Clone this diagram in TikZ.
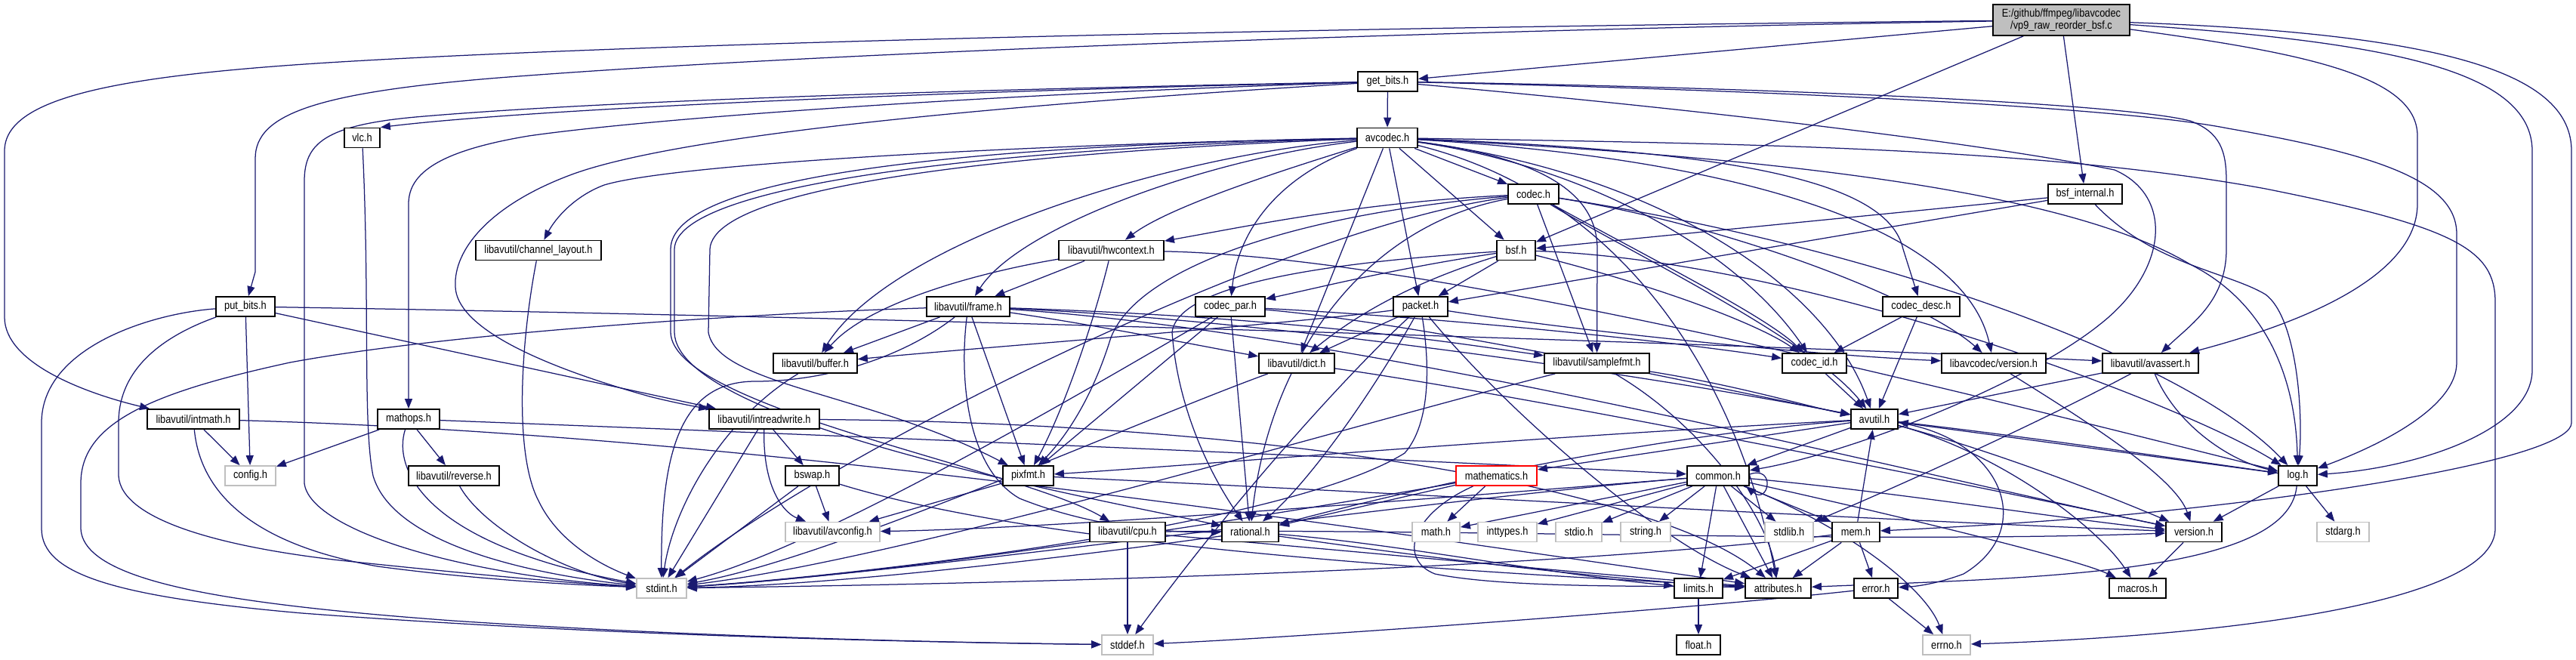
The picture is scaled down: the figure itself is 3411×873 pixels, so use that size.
\documentclass[tikz,border=0pt]{standalone}
\usepackage{fontspec}
\newfontfamily\dxf{Liberation Sans}[FakeStretch=0.86]
\usetikzlibrary{arrows.meta}
\definecolor{edgec}{HTML}{191970}
\definecolor{graybd}{HTML}{BFBFBF}
\definecolor{rootfill}{HTML}{BFBFBF}
\pgfdeclarelayer{bgfill}
\pgfdeclarelayer{edges}
\pgfsetlayers{bgfill,edges,main}
\begin{document}
\begin{tikzpicture}[x=1pt,y=-1pt,
  nb/.style={draw=black,line width=1.8pt,fill=white,minimum height=26pt,inner sep=0pt,
    font=\dxf\fontsize{14.9pt}{15.5pt}\selectfont},
  ng/.style={nb,draw=graybd},
  nr/.style={nb,draw=red},
  edg/.style={draw=edgec,line width=1.25pt,-{Triangle[length=13pt,width=10pt]}}]
\begin{pgfonlayer}{bgfill}
\fill[white] (0,0) rectangle (3411,873);
\end{pgfonlayer}
\useasboundingbox (0,0) rectangle (3411,873);
% nodes
\node[nb,minimum width=181pt,minimum height=41pt,fill=rootfill,align=center] (root) at (2729.5,26.5) {E:/github/ffmpeg/libavcodec\\/vp9\_raw\_reorder\_bsf.c};
\node[nb,minimum width=79pt] (get_bits) at (1837.5,108) {get\_bits.h};
\node[nb,minimum width=47pt] (vlc) at (479.5,182.5) {vlc.h};
\node[nb,minimum width=80pt] (avcodec) at (1837,182.5) {avcodec.h};
\node[nb,minimum width=67pt] (codec) at (2030.5,257) {codec.h};
\node[nb,minimum width=98pt] (bsf_internal) at (2761,257) {bsf\_internal.h};
\node[nb,minimum width=166pt] (channel_layout) at (713,331.5) {libavutil/channel\_layout.h};
\node[nb,minimum width=139pt] (hwcontext) at (1471.5,331.5) {libavutil/hwcontext.h};
\node[nb,minimum width=51pt] (bsf) at (2007.5,331.5) {bsf.h};
\node[nb,minimum width=78pt] (put_bits) at (325,406) {put\_bits.h};
\node[nb,minimum width=110pt] (frame) at (1282,406) {libavutil/frame.h};
\node[nb,minimum width=92pt] (codec_par) at (1629,406) {codec\_par.h};
\node[nb,minimum width=72pt] (packet) at (1881,406) {packet.h};
\node[nb,minimum width=102pt] (codec_desc) at (2544,406) {codec\_desc.h};
\node[nb,minimum width=111pt] (buffer) at (1079.5,481) {libavutil/buffer.h};
\node[nb,minimum width=100pt] (dict) at (1717,481) {libavutil/dict.h};
\node[nb,minimum width=139pt] (samplefmt) at (2114.5,481) {libavutil/samplefmt.h};
\node[nb,minimum width=85pt] (codec_id) at (2402.5,481) {codec\_id.h};
\node[nb,minimum width=138pt] (lavc_version) at (2640,481) {libavcodec/version.h};
\node[nb,minimum width=127pt] (avassert) at (2847.5,481) {libavutil/avassert.h};
\node[nb,minimum width=122pt] (intmath) at (256,555) {libavutil/intmath.h};
\node[nb,minimum width=82pt] (mathops) at (541,555) {mathops.h};
\node[nb,minimum width=146pt] (intreadwrite) at (1012,555) {libavutil/intreadwrite.h};
\node[nb,minimum width=62pt] (avutil) at (2482,555) {avutil.h};
\node[ng,minimum width=67pt] (config) at (331.5,630) {config.h};
\node[nb,minimum width=120pt] (reverse) at (601,630) {libavutil/reverse.h};
\node[nb,minimum width=71pt] (bswap) at (1075.5,630) {bswap.h};
\node[nb,minimum width=67pt] (pixfmt) at (1361.5,630) {pixfmt.h};
\node[nr,minimum width=107pt] (mathematics) at (1981.5,630) {mathematics.h};
\node[nb,minimum width=82pt] (common) at (2275,630) {common.h};
\node[nb,minimum width=51pt] (log) at (3042.5,630) {log.h};
\node[ng,minimum width=125pt] (avconfig) at (1102.5,704.5) {libavutil/avconfig.h};
\node[nb,minimum width=100pt] (cpu) at (1493,704.5) {libavutil/cpu.h};
\node[nb,minimum width=75pt] (rational) at (1655.5,704.5) {rational.h};
\node[ng,minimum width=63pt] (math) at (1901.5,704.5) {math.h};
\node[ng,minimum width=78pt] (inttypes) at (1996,704.5) {inttypes.h};
\node[ng,minimum width=61pt] (stdio) at (2090.5,704.5) {stdio.h};
\node[ng,minimum width=66pt] (string) at (2179,704.5) {string.h};
\node[ng,minimum width=64pt] (stdlib) at (2369,704.5) {stdlib.h};
\node[nb,minimum width=63pt] (mem) at (2457.5,704.5) {mem.h};
\node[nb,minimum width=74pt] (version) at (2905,704.5) {version.h};
\node[ng,minimum width=69pt] (stdarg) at (3102.5,704.5) {stdarg.h};
\node[ng,minimum width=66pt] (stdint) at (876,779) {stdint.h};
\node[nb,minimum width=64pt] (limits) at (2249,779) {limits.h};
\node[nb,minimum width=87pt] (attributes) at (2354.5,779) {attributes.h};
\node[nb,minimum width=58pt] (error) at (2484,779) {error.h};
\node[nb,minimum width=75pt] (macros) at (2830.5,779) {macros.h};
\node[ng,minimum width=68pt] (stddef) at (1493,854) {stddef.h};
\node[nb,minimum width=58pt] (float) at (2249,854) {float.h};
\node[ng,minimum width=63pt] (errno) at (2577.5,854) {errno.h};
\begin{pgfonlayer}{edges}
% root
\draw[edg] (root) -- (get_bits);
\draw[edg] (root) -- (bsf);
\draw[edg] (root) -- (bsf_internal);
\draw[edg] (root) .. controls (1800,36) and (900,55) .. (450,82) .. controls (150,100) and (6,130) .. (6,200) -- (6,420) .. controls (6,480) and (110,520) .. (intmath);
\draw[edg] (root) .. controls (1900,40) and (1100,70) .. (700,100) .. controls (420,120) and (338,150) .. (338,210) -- (338,360) -- (put_bits);
\draw[edg] (root) .. controls (3050,70) and (3201,100) .. (3201,180) -- (3201,270) .. controls (3201,380) and (3000,440) .. (avassert);
\draw[edg] (root) .. controls (3150,55) and (3353,90) .. (3353,200) -- (3353,490) .. controls (3353,570) and (3200,620) .. (log);
\draw[edg] (root) .. controls (3250,45) and (3405,100) .. (3405,200) -- (3405,560) .. controls (3405,600) and (3150,650) .. (2800,683) .. controls (2650,695) and (2550,700) .. (mem);
% get_bits
\draw[edg] (get_bits) -- (avcodec);
\draw[edg] (get_bits) .. controls (1200,122) and (700,145) .. (vlc.north east);
\draw[edg] (get_bits) .. controls (1300,118) and (800,133) .. (550,155) .. controls (430,166) and (403,190) .. (403,240) -- (403,640) .. controls (410,700) and (600,760) .. (stdint);
\draw[edg] (get_bits) .. controls (1300,125) and (860,157) .. (700,180) .. controls (580,200) and (541,230) .. (541,270) -- (mathops);
\draw[edg] (get_bits) .. controls (1300,140) and (900,180) .. (760,230) .. controls (650,270) and (600,330) .. (603,380) .. controls (605,430) and (700,480) .. (860,525) .. controls (900,535) and (930,540) .. (intreadwrite);
\draw[edg] (get_bits) .. controls (2200,140) and (2600,185) .. (2800,225) .. controls (2880,260) and (2870,360) .. (2780,430) .. controls (2680,510) and (2450,600) .. (common);
\draw[edg] (get_bits) .. controls (2300,118) and (2800,140) .. (2950,170) .. controls (3150,205) and (3253,240) .. (3253,310) -- (3253,480) .. controls (3253,540) and (3150,590) .. (log);
\draw[edg] (get_bits) .. controls (2300,115) and (2800,135) .. (2900,160) .. controls (2940,175) and (2948,200) .. (2948,240) -- (2948,330) .. controls (2948,400) and (2900,430) .. (avassert);
% vlc
\draw[edg] (vlc) .. controls (490,400) and (480,560) .. (494,630) .. controls (520,720) and (700,760) .. (stdint);
% avcodec
\draw[edg] (avcodec) -- (codec);
\draw[edg] (avcodec) -- (bsf);
\draw[edg] (avcodec) -- (packet);
\draw[edg] (avcodec) -- (dict);
\draw[edg] (avcodec) .. controls (1400,190) and (900,215) .. (800,245) .. controls (760,260) and (735,290) .. (channel_layout);
\draw[edg] (avcodec) .. controls (1300,192) and (888,230) .. (888,330) -- (888,440) .. controls (890,540) and (1350,620) .. (cpu);
\draw[edg] (avcodec) .. controls (1500,195) and (945,230) .. (940,330) -- (938,440) .. controls (950,510) and (1150,520) .. (pixfmt);
\draw[edg] (avcodec) .. controls (1550,205) and (1180,320) .. (buffer);
\draw[edg] (avcodec) .. controls (1600,210) and (1350,300) .. (frame);
\draw[edg] (avcodec) .. controls (1650,240) and (1540,280) .. (hwcontext);
\draw[edg] (avcodec) .. controls (1700,230) and (1640,300) .. (codec_par);
\draw[edg] (avcodec) .. controls (1350,195) and (895,240) .. (893,330) -- (893,440) .. controls (895,560) and (1450,660) .. (rational);
\draw[edg] (avcodec) .. controls (2050,210) and (2115,260) .. (2115,330) -- (samplefmt);
\draw[edg] (avcodec) .. controls (2100,220) and (2300,330) .. (codec_id);
\draw[edg] (avcodec) .. controls (2300,200) and (2500,240) .. (2520,330) -- (codec_desc);
\draw[edg] (avcodec) .. controls (2200,230) and (2420,380) .. (avutil);
\draw[edg] (avcodec) .. controls (2150,260) and (2300,500) .. (attributes);
\draw[edg] (avcodec) .. controls (2300,210) and (2600,300) .. (lavc_version);
\draw[edg] (avcodec) .. controls (2400,210) and (2750,260) .. (2900,350) .. controls (3000,400) and (3040,500) .. (log);
\draw[edg] (avcodec) .. controls (2300,190) and (2700,195) .. (3000,250) .. controls (3250,300) and (3304,330) .. (3304,400) -- (3304,700) .. controls (3304,790) and (3000,840) .. (errno);
% codec
\draw[edg] (codec) -- (samplefmt);
\draw[edg] (codec) .. controls (1800,268) and (1650,300) .. (hwcontext);
\draw[edg] (codec) .. controls (1700,285) and (1500,360) .. (1470,450) .. controls (1445,530) and (1410,580) .. (pixfmt);
\draw[edg] (codec) .. controls (1800,300) and (1680,480) .. (rational);
\draw[edg] (codec) .. controls (1700,300) and (1100,600) .. (stdint);
\draw[edg] (codec) .. controls (2200,350) and (2340,420) .. (codec_id);
\draw[edg] (codec) .. controls (2150,330) and (2400,450) .. (avutil);
\draw[edg] (codec) .. controls (2300,300) and (2550,400) .. (lavc_version);
\draw[edg] (codec) .. controls (2500,330) and (2900,480) .. (log);
% bsf_internal
\draw[edg] (bsf_internal) -- (bsf);
\draw[edg] (bsf_internal) -- (packet);
\draw[edg] (bsf_internal) .. controls (2850,350) and (2950,360) .. (3000,390) .. controls (3040,420) and (3050,540) .. (log);
% channel_layout
\draw[edg] (channel_layout) .. controls (690,450) and (680,600) .. (713,663) .. controls (740,720) and (800,750) .. (stdint);
% hwcontext
\draw[edg] (hwcontext) -- (frame);
\draw[edg] (hwcontext) .. controls (1300,360) and (1150,400) .. (buffer);
\draw[edg] (hwcontext) .. controls (1450,420) and (1410,540) .. (pixfmt);
\draw[edg] (hwcontext) .. controls (1900,340) and (2600,520) .. (log);
% bsf
\draw[edg] (bsf) -- (packet);
\draw[edg] (bsf) .. controls (1850,355) and (1750,380) .. (codec_par);
\draw[edg] (bsf) .. controls (1850,380) and (1780,430) .. (dict);
\draw[edg] (bsf) .. controls (1800,345) and (1560,370) .. (1552,440) .. controls (1560,550) and (1610,640) .. (rational);
\draw[edg] (bsf) .. controls (2200,380) and (2330,430) .. (codec_id);
\draw[edg] (bsf) .. controls (2400,345) and (2900,540) .. (log);
% put_bits
\draw[edg] (put_bits) -- (config);
\draw[edg] (put_bits) -- (intreadwrite);
\draw[edg] (put_bits) .. controls (1200,420) and (2300,455) .. (avassert);
\draw[edg] (put_bits) .. controls (230,440) and (157,480) .. (157,560) -- (157,630) .. controls (160,690) and (300,725) .. (450,742) .. controls (600,758) and (750,772) .. (stdint);
\draw[edg] (put_bits) .. controls (200,415) and (55,460) .. (55,560) -- (55,700) .. controls (55,760) and (150,790) .. (400,812) .. controls (800,842) and (1200,850) .. (stddef);
% frame
\draw[edg] (frame) -- (buffer);
\draw[edg] (frame) -- (pixfmt);
\draw[edg] (frame) .. controls (1000,415) and (600,440) .. (384,480) .. controls (200,520) and (107,560) .. (107,640) -- (107,700) .. controls (110,770) and (300,800) .. (600,822) .. controls (900,842) and (1200,850) .. (stddef);
\draw[edg] (frame) .. controls (1200,470) and (1100,505) .. (1000,505) .. controls (900,505) and (875,600) .. (stdint);
\draw[edg] (frame) .. controls (1450,430) and (1600,460) .. (dict);
\draw[edg] (frame) .. controls (1270,500) and (1280,620) .. (1350,660) .. controls (1450,700) and (1550,705) .. (rational);
\draw[edg] (frame) .. controls (1700,420) and (1900,450) .. (samplefmt);
\draw[edg] (frame) .. controls (1700,425) and (2200,500) .. (avutil);
\draw[edg] (frame) .. controls (1800,440) and (2500,620) .. (version);
% codec_par
\draw[edg] (codec_par) -- (rational);
\draw[edg] (codec_par) -- (pixfmt);
\draw[edg] (codec_par) .. controls (1500,480) and (1100,720) .. (stdint);
\draw[edg] (codec_par) .. controls (1900,430) and (2300,520) .. (avutil);
\draw[edg] (codec_par) .. controls (1900,420) and (2200,450) .. (codec_id);
% packet
\draw[edg] (packet) -- (dict);
\draw[edg] (packet) .. controls (1800,480) and (1650,640) .. (stddef);
\draw[edg] (packet) .. controls (1893,480) and (1895,560) .. (1860,600) .. controls (1700,700) and (1100,765) .. (stdint);
\draw[edg] (packet) .. controls (2000,550) and (2200,720) .. (attributes);
\draw[edg] (packet) .. controls (1700,430) and (1300,460) .. (buffer);
\draw[edg] (packet) .. controls (1800,550) and (1720,650) .. (rational);
\draw[edg] (packet) .. controls (2100,440) and (2400,470) .. (lavc_version);
% codec_desc
\draw[edg] (codec_desc) -- (avutil);
\draw[edg] (codec_desc) -- (codec_id);
% buffer, dict, samplefmt, codec_id, lavc_version
\draw[edg] (buffer) .. controls (950,560) and (890,680) .. (stdint);
\draw[edg] (dict) .. controls (1500,560) and (1100,740) .. (stdint);
\draw[edg] (dict) .. controls (2000,520) and (2600,640) .. (version);
\draw[edg] (samplefmt) .. controls (1800,560) and (1200,740) .. (stdint);
\draw[edg] (samplefmt) .. controls (2300,510) and (2400,540) .. (avutil);
\draw[edg] (samplefmt) .. controls (2250,560) and (2340,680) .. (attributes);
\draw[edg] (codec_id) -- (avutil);
\draw[edg] (lavc_version) .. controls (2750,550) and (2880,630) .. (version);
% avassert
\draw[edg] (avassert) -- (avutil);
\draw[edg] (avassert) .. controls (2700,560) and (2500,650) .. (stdlib);
\draw[edg] (avassert) .. controls (2880,560) and (2950,610) .. (log);
% intmath
\draw[edg] (intmath) -- (config);
\draw[edg] (intmath) .. controls (265,650) and (330,720) .. (500,750) .. controls (650,770) and (780,775) .. (stdint);
\draw[edg] (intmath) .. controls (1000,575) and (1800,700) .. (attributes);
% mathops
\draw[edg] (mathops) -- (config);
\draw[edg] (mathops) -- (reverse);
\draw[edg] (mathops) .. controls (520,620) and (560,720) .. (stdint);
\draw[edg] (mathops) .. controls (1200,580) and (1900,610) .. (common);
% intreadwrite
\draw[edg] (intreadwrite) -- (bswap);
\draw[edg] (intreadwrite) -- (stdint);
\draw[edg] (intreadwrite) .. controls (1010,650) and (1040,680) .. (avconfig);
\draw[edg] (intreadwrite) .. controls (1700,560) and (2200,650) .. (attributes);
% reverse, bswap, pixfmt
\draw[edg] (reverse) .. controls (640,700) and (750,760) .. (stdint);
\draw[edg] (bswap) -- (stdint);
\draw[edg] (bswap) -- (avconfig);
\draw[edg] (bswap) .. controls (1400,730) and (2000,760) .. (attributes);
\draw[edg] (pixfmt) -- (avconfig);
\draw[edg] (pixfmt) .. controls (1800,650) and (2500,690) .. (version);
% avutil
\draw[edg] (avutil) -- (common);
\draw[edg] (avutil) -- (mathematics);
\draw[edg] (avutil) .. controls (2200,575) and (1900,640) .. (rational);
\draw[edg] (avutil) .. controls (2000,580) and (1600,615) .. (pixfmt);
\draw[edg] (avutil) .. controls (2650,600) and (2800,660) .. (version);
\draw[edg] (avutil) .. controls (2650,600) and (2780,700) .. (macros);
\draw[edg] (avutil) .. controls (2700,580) and (2900,610) .. (log);
\draw[edg] (avutil) .. controls (2650,580) and (2700,700) .. (2600,760) .. controls (2560,775) and (2530,777) .. (error);
% common
\draw[edg] (common) -- (math);
\draw[edg] (common) -- (inttypes);
\draw[edg] (common) -- (stdio);
\draw[edg] (common) -- (string);
\draw[edg] (common) -- (stdlib);
\draw[edg] (common) -- (mem);
\draw[edg] (common) -- (limits);
\draw[edg] (common) -- (attributes);
\draw[edg] (common) .. controls (2450,700) and (2550,780) .. (errno);
\draw[edg] (common) .. controls (1900,660) and (1200,760) .. (stdint);
\draw[edg] (common) .. controls (1900,660) and (1400,700) .. (avconfig);
\draw[edg] (common) .. controls (2500,680) and (2750,740) .. (macros);
\draw[edg] (common) .. controls (2500,650) and (2750,690) .. (version);
\draw[edg] ([yshift=2pt]common.east) .. controls +(35,-12) and +(30,25) .. ([xshift=-5pt]common.south east);
% mathematics
\draw[edg] (mathematics) -- (math);
\draw[edg] (mathematics) -- (rational);
\draw[edg] (mathematics) .. controls (1700,680) and (1200,760) .. (stdint);
\draw[edg] (mathematics) .. controls (1870,680) and (1850,740) .. (1900,760) .. controls (2000,780) and (2200,775) .. (attributes);
% rational
\draw[edg] (rational) .. controls (1400,740) and (1100,775) .. (stdint);
\draw[edg] (rational) .. controls (1850,720) and (2050,760) .. (limits);
\draw[edg] (rational) .. controls (1900,740) and (2150,770) .. (attributes);
% cpu
\draw[edg] (cpu) -- (stddef);
\draw[edg] (cpu) .. controls (1800,730) and (2100,760) .. (attributes);
\draw[edg] (cpu) .. controls (1900,700) and (2500,720) .. (version);
% mem
\draw[edg] (mem) -- (avutil);
\draw[edg] (mem) -- (error);
\draw[edg] (mem) -- (attributes);
\draw[edg] (mem) -- (limits);
\draw[edg] (mem) .. controls (2000,760) and (1200,775) .. (stdint);
% error, log, version, limits
\draw[edg] (error) -- (errno);
\draw[edg] (error) .. controls (2200,810) and (1700,845) .. (stddef);
\draw[edg] (log) -- (stdarg);
\draw[edg] (log) -- (version);
\draw[edg] (log) -- (avutil);
\draw[edg] (log) .. controls (3030,760) and (2700,765) .. (attributes);
\draw[edg] (version) -- (macros);
\draw[edg] (limits) -- (float);
\end{pgfonlayer}
\end{tikzpicture}
\end{document}
